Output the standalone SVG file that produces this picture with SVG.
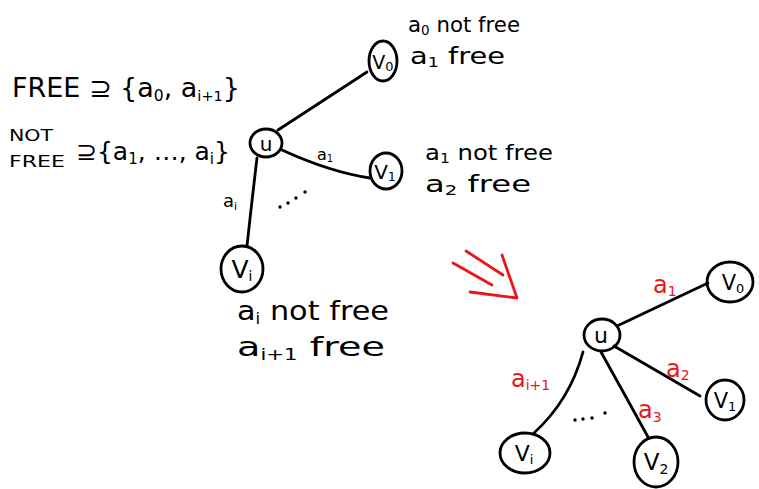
<svg xmlns="http://www.w3.org/2000/svg" width="759" height="489" viewBox="0 0 759 489">
<style>
.n{fill:none;stroke:#000;stroke-width:2.8}
.e{fill:none;stroke:#000;stroke-width:2.8;stroke-linecap:round}
.t{font-family:"DejaVu Sans","Liberation Sans",sans-serif;fill:#000}
.r{font-family:"DejaVu Sans","Liberation Sans",sans-serif;fill:#e8161b}
.red{fill:none;stroke:#e8161b;stroke-width:2.8;stroke-linecap:round;stroke-linejoin:round}
.dot{fill:#000}
</style>
<rect width="759" height="489" fill="#fff"/>
<g id="notes">
<text class="t" x="12" y="97" font-size="26" textLength="228" lengthAdjust="spacingAndGlyphs">FREE ⊇ {a<tspan font-size="15" dy="4">0</tspan><tspan dy="-4">, a</tspan><tspan font-size="14" dy="4">i+1</tspan><tspan dy="-4">}</tspan></text>
<text class="t" x="9" y="141" font-size="16" textLength="44" lengthAdjust="spacingAndGlyphs">NOT</text>
<text class="t" x="9" y="167" font-size="16" textLength="56" lengthAdjust="spacingAndGlyphs">FREE</text>
<text class="t" x="76" y="160" font-size="25">⊇{a<tspan font-size="15" dy="4">1</tspan><tspan dy="-4">, …, a</tspan><tspan font-size="15" dy="4">i</tspan><tspan dy="-4">}</tspan></text>
<text class="t" x="408" y="32" font-size="22" textLength="112" lengthAdjust="spacingAndGlyphs">a<tspan font-size="14" dy="3">0</tspan><tspan dy="-3"> not free</tspan></text>
<text class="t" x="410" y="64" font-size="23" textLength="95" lengthAdjust="spacingAndGlyphs">a<tspan font-size="14" dy="3">1</tspan><tspan dy="-3"> free</tspan></text>
<text class="t" x="425" y="160" font-size="22" textLength="128" lengthAdjust="spacingAndGlyphs">a<tspan font-size="14" dy="3">1</tspan><tspan dy="-3"> not free</tspan></text>
<text class="t" x="425" y="192" font-size="23" textLength="106" lengthAdjust="spacingAndGlyphs">a<tspan font-size="14" dy="3">2</tspan><tspan dy="-3"> free</tspan></text>
<text class="t" x="237" y="320" font-size="27" textLength="152" lengthAdjust="spacingAndGlyphs">a<tspan font-size="15" dy="4">i</tspan><tspan dy="-4"> not free</tspan></text>
<text class="t" x="237" y="356" font-size="27" textLength="148" lengthAdjust="spacingAndGlyphs">a<tspan font-size="15" dy="4">i+1</tspan><tspan dy="-4"> free</tspan></text>
</g>
<g id="connectors">
<path class="e" d="M278,130 L367,72"/>
<path class="e" d="M282,150 Q330,172 370,178"/>
<path class="e" d="M257,158 Q252,200 247,246"/>
<path class="e" d="M617,326 L708,283"/>
<path class="e" d="M614,346 L700,396"/>
<path class="e" d="M601,352 Q625,395 648,437"/>
<path class="e" d="M583,352 Q570,400 534,433"/>
<text class="t" x="317" y="160" font-size="16">a<tspan font-size="10" dy="2">1</tspan></text>
<text class="t" x="223" y="207" font-size="18">a<tspan font-size="11" dy="3">i</tspan></text>
<circle class="dot" cx="280" cy="207" r="1.7"/>
<circle class="dot" cx="288" cy="203" r="1.7"/>
<circle class="dot" cx="296" cy="198" r="1.7"/>
<circle class="dot" cx="305" cy="192" r="1.7"/>
<circle class="dot" cx="575" cy="420" r="1.7"/>
<circle class="dot" cx="583" cy="419" r="1.7"/>
<circle class="dot" cx="592" cy="418" r="1.7"/>
<circle class="dot" cx="605" cy="413" r="1.7"/>
<text class="r" x="653" y="293" font-size="24">a<tspan font-size="14" dy="3">1</tspan></text>
<text class="r" x="666" y="377" font-size="24">a<tspan font-size="14" dy="3">2</tspan></text>
<text class="r" x="638" y="418" font-size="24">a<tspan font-size="14" dy="4">3</tspan></text>
<text class="r" x="511" y="387" font-size="24">a<tspan font-size="14" dy="3">i+1</tspan></text>
</g>
<g id="arrow">
<path class="red" d="M453,263 L492,285"/>
<path class="red" d="M466,251 L503,275"/>
<path class="red" d="M470,292 L517,298 L502,255"/>
</g>
<g id="L-u"><ellipse class="n" cx="266" cy="143" rx="16" ry="14"/><text class="t" x="266" y="151" font-size="20" text-anchor="middle">u</text></g>
<g id="L-v0"><ellipse class="n" cx="383" cy="61" rx="14" ry="20"/><text class="t" x="383" y="69" font-size="19" text-anchor="middle">V<tspan font-size="13" dy="2">0</tspan></text></g>
<g id="L-v1"><ellipse class="n" cx="386" cy="171" rx="16" ry="18"/><text class="t" x="385" y="179" font-size="20" text-anchor="middle">V<tspan font-size="12" dy="2">1</tspan></text></g>
<g id="L-vi"><ellipse class="n" cx="242" cy="269" rx="21" ry="23"/><text class="t" x="242" y="278" font-size="25" text-anchor="middle">V<tspan font-size="14" dy="3">i</tspan></text></g>
<g id="R-u"><ellipse class="n" cx="602" cy="335" rx="18" ry="16"/><text class="t" x="601" y="343" font-size="22" text-anchor="middle">u</text></g>
<g id="R-v0"><ellipse class="n" cx="730" cy="282" rx="23" ry="20"/><text class="t" x="733" y="290" font-size="21" text-anchor="middle">V<tspan font-size="13" dy="3">0</tspan></text></g>
<g id="R-v1"><ellipse class="n" cx="725" cy="400" rx="19" ry="20"/><text class="t" x="725" y="408" font-size="21" text-anchor="middle">V<tspan font-size="13" dy="3">1</tspan></text></g>
<g id="R-v2"><ellipse class="n" cx="656" cy="462" rx="22" ry="25"/><text class="t" x="656" y="470" font-size="23" text-anchor="middle">V<tspan font-size="14" dy="4">2</tspan></text></g>
<g id="R-vi"><ellipse class="n" cx="525" cy="453" rx="25" ry="20"/><text class="t" x="524" y="461" font-size="22" text-anchor="middle">V<tspan font-size="13" dy="3">i</tspan></text></g>
</svg>
